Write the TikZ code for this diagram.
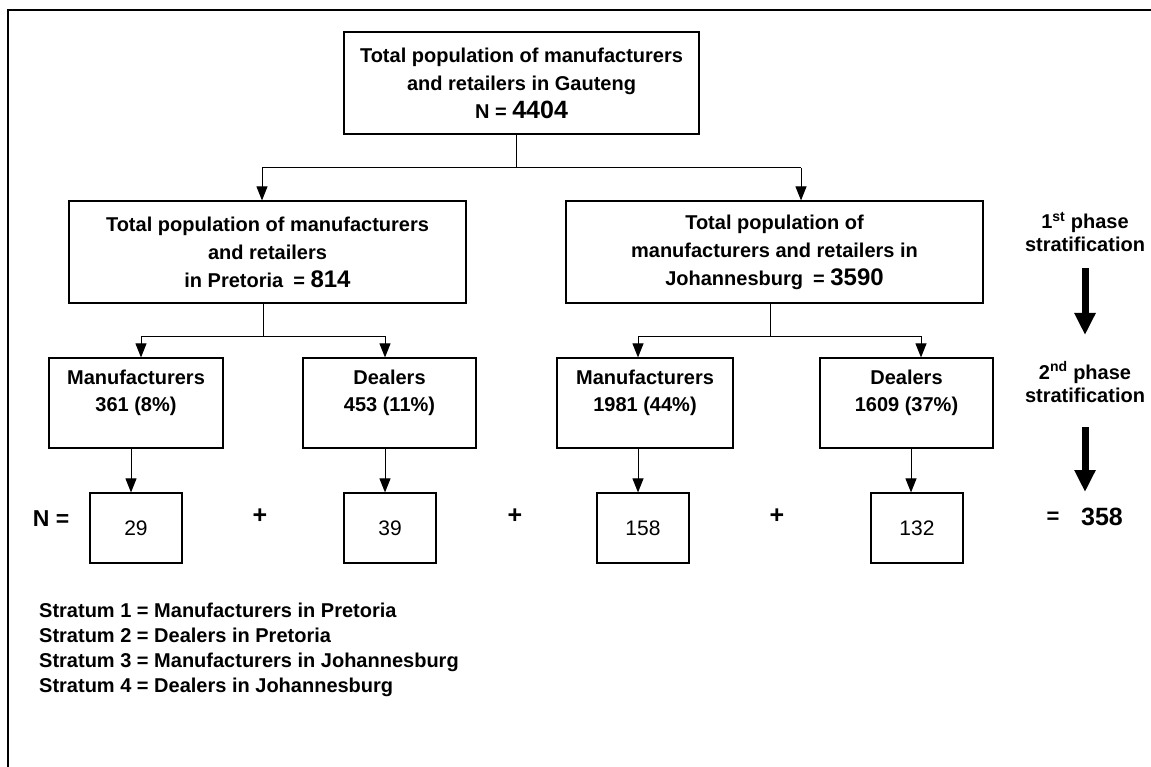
\documentclass[tikz,border=0pt]{standalone}
\usepackage{fontspec}
\setmainfont{Liberation Sans}
\usetikzlibrary{arrows.meta}
\begin{document}
\begin{tikzpicture}[x=1pt,y=-1pt,
  box/.style={draw, line width=1.2pt, inner sep=0pt, align=center, font=\fontsize{20}{28}\selectfont\bfseries},
  numbox/.style={draw, line width=1.2pt, inner sep=0pt, align=center, font=\fontsize{21}{24}\selectfont},
  arr/.style={-{Triangle[width=11pt,length=14pt]}, line width=1pt},
  conn/.style={line width=1pt},
  txt/.style={inner sep=0pt, align=center, font=\fontsize{20}{27}\selectfont\bfseries},
  bigtxt/.style={inner sep=0pt, align=center, font=\fontsize{25}{27}\selectfont\bfseries},
  bigarr/.style={-{Triangle[width=20pt,length=22pt]}, line width=7pt},
]
\fill[white] (0,0) rectangle (1151,767);
\useasboundingbox (0,0) rectangle (1151,767);
\draw[line width=1.5pt] (1151,10) -- (8,10) -- (8,767);

% level 1
\node[box, minimum width=355pt, minimum height=102pt] (top) at (521.5,83)
  {Total population of manufacturers\\and retailers in Gauteng\\N = {\fontsize{25}{28}\selectfont 4404}};

% level 2
\node[box, minimum width=397pt, minimum height=102pt] (midL) at (267.5,252)
  {Total population of manufacturers\\and retailers\\in Pretoria\hspace{0.5em}= {\fontsize{24}{28}\selectfont 814}};
\node[box, minimum width=417pt, minimum height=102pt] (midR) at (774.5,252)
  {Total population of\\manufacturers and retailers in\\Johannesburg\hspace{0.5em}= {\fontsize{24}{28}\selectfont 3590}};

% level 3
\node[box, minimum width=174pt, minimum height=90pt] (mP) at (136,403) {};
\node[box, minimum width=173pt, minimum height=90pt] (dP) at (389.5,403) {};
\node[box, minimum width=176pt, minimum height=90pt] (mJ) at (645,403) {};
\node[box, minimum width=173pt, minimum height=90pt] (dJ) at (906.5,403) {};
\node[txt] (mPt) at (136,393) {Manufacturers\\361 (8\%)};
\node[txt] (dPt) at (389.5,393) {Dealers\\453 (11\%)};
\node[txt] (mJt) at (645,393) {Manufacturers\\1981 (44\%)};
\node[txt] (dJt) at (906.5,393) {Dealers\\1609 (37\%)};

% level 4
\node[numbox, minimum width=92pt, minimum height=70pt] (b1) at (136,528) {29};
\node[numbox, minimum width=92pt, minimum height=70pt] (b2) at (390,528) {39};
\node[numbox, minimum width=92pt, minimum height=70pt] (b3) at (643,528) {158};
\node[numbox, minimum width=92pt, minimum height=70pt] (b4) at (917,528) {132};

\node[bigtxt, font=\fontsize{23}{25}\selectfont\bfseries] (Neq) at (51,519) {N =};
\node[bigtxt] (p1) at (260,516) {+};
\node[bigtxt] (p2) at (515,516) {+};
\node[bigtxt] (p3) at (777,516) {+};
\node[bigtxt, font=\fontsize{22}{25}\selectfont\bfseries] (eq) at (1053,518) {=};
\node[bigtxt] (tot) at (1102,517) {358};

% connectors level 1 -> 2
\coordinate (j0) at (516,168);
\coordinate (jL) at (262,168);
\coordinate (jR) at (801,168);
\draw[conn] ([xshift=-5.5pt]top.south) -- (j0);
\draw[conn] (jL) -- (jR);
\draw[arr] (jL) -- (jL |- midL.north);
\draw[arr] (jR) -- (jR |- midR.north);

% connectors level 2 -> 3
\coordinate (kL) at (263,336);
\coordinate (kL1) at (141,336);
\coordinate (kL2) at (385,336);
\draw[conn] (kL |- midL.south) -- (kL);
\draw[conn] (kL1) -- (kL2);
\draw[arr] (kL1) -- (kL1 |- mP.north);
\draw[arr] (kL2) -- (kL2 |- dP.north);
\coordinate (kR) at (770,336);
\coordinate (kR1) at (638,336);
\coordinate (kR2) at (921,336);
\draw[conn] (kR |- midR.south) -- (kR);
\draw[conn] (kR1) -- (kR2);
\draw[arr] (kR1) -- (kR1 |- mJ.north);
\draw[arr] (kR2) -- (kR2 |- dJ.north);

% connectors level 3 -> 4
\coordinate (d1) at (131,0);
\coordinate (d2) at (385,0);
\coordinate (d3) at (638,0);
\coordinate (d4) at (911,0);
\draw[arr] (d1 |- mP.south) -- (d1 |- b1.north);
\draw[arr] (d2 |- dP.south) -- (d2 |- b2.north);
\draw[arr] (d3 |- mJ.south) -- (d3 |- b3.north);
\draw[arr] (d4 |- dJ.south) -- (d4 |- b4.north);

% phase labels
\node[txt, font=\fontsize{20}{23}\selectfont\bfseries] (ph1) at (1085,232) {1\textsuperscript{st} phase\\stratification};
\node[txt, font=\fontsize{20}{23}\selectfont\bfseries] (ph2) at (1085,382) {2\textsuperscript{nd} phase\\stratification};
\coordinate (a1s) at (1085,268);
\coordinate (a1e) at (1085,335);
\coordinate (a2s) at (1085,427);
\coordinate (a2e) at (1085,492);
\draw[bigarr] (a1s) -- (a1e);
\draw[bigarr] (a2s) -- (a2e);

% legend
\node[txt, align=left, anchor=north west, font=\fontsize{20}{25}\selectfont\bfseries] (legend) at (39,603)
  {Stratum 1 = Manufacturers in Pretoria\\Stratum 2 = Dealers in Pretoria\\Stratum 3 = Manufacturers in Johannesburg\\Stratum 4 = Dealers in Johannesburg};
\end{tikzpicture}
\end{document}
